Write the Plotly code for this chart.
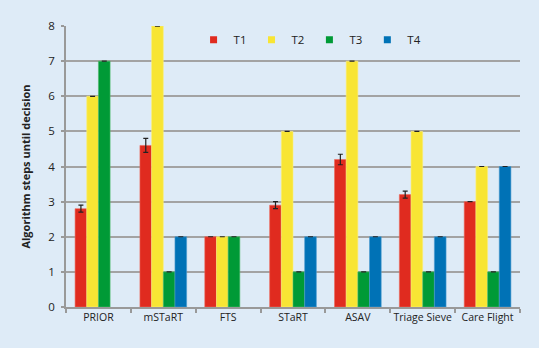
import plotly.graph_objects as go

categories = ["PRIOR", "mSTaRT", "FTS", "STaRT", "ASAV", "Triage Sieve", "Care Flight"]
series_names = ["T1", "T2", "T3", "T4"]
t1 = [2.8, 4.6, 2, 2.9, 4.2, 3.2, 3]
t1_err = [0.1, 0.2, 0, 0.1, 0.15, 0.1, 0]
t2 = [6, 8, 2, 5, 7, 5, 4]
t3 = [7, 1, 2, 1, 1, 1, 1]
t4 = [None, 2, None, 2, 2, 2, 4]
colors = ["#e02b1f", "#f8e534", "#009a36", "#0072b6"]
edge_colors = ["#ec6a5c", "#fbee7a", "#4dba6a", "#4a9ad0"]

values = [t1, t2, t3, t4]
errors = [t1_err, [0] * 7, [0] * 7, [0] * 7]

FONT = "Open Sans"
fig = go.Figure()
for name, vals, errs, c, ec in zip(series_names, values, errors, colors, edge_colors):
    fig.add_trace(go.Bar(
        x=categories, y=vals, name=name, showlegend=False,
        marker=dict(color=c, line=dict(color=ec, width=0.6)),
        error_y=dict(type="data", array=errs, visible=True, color="#222222",
                     thickness=1.2, width=2.5),
    ))
for name, c in zip(series_names, colors):
    fig.add_trace(go.Scatter(
        x=[None], y=[None], mode="markers", name=name,
        marker=dict(symbol="square", size=7, color=c),
    ))

fig.update_layout(
    width=539, height=348,
    paper_bgcolor="#deebf7", plot_bgcolor="#deebf7",
    margin=dict(l=66, r=19, t=26, b=41),
    barmode="group", bargap=0.28, bargroupgap=0,
    font=dict(family=FONT, size=11, color="#222222"),
    legend=dict(orientation="h", x=0.281, xanchor="left", y=1.003, yanchor="top",
                bgcolor="rgba(0,0,0,0)", itemwidth=30,
                font=dict(size=11.5, family=FONT, color="#222222"),
                tracegroupgap=0),
    xaxis=dict(showline=True, linecolor="#999999", linewidth=1.5, tickangle=0,
               ticks="outside", tickson="boundaries", ticklen=4, tickcolor="#999999",
               tickwidth=1.5, showgrid=False, tickfont=dict(size=10.5)),
    yaxis=dict(range=[0, 8.001], dtick=1, showline=True, linecolor="#999999", linewidth=1.5,
               gridcolor="#a3a3a3", gridwidth=1.5, ticks="outside", ticklen=3,
               tickcolor="#999999", tickwidth=1.5, zeroline=False,
               ticklabelstandoff=4, tickfont=dict(size=11.5),
               title=dict(text="<b>Algorithm steps until decision</b>", font=dict(size=11),
                          standoff=16)),
)
fig.write_html("out.html", config={"displayModeBar": False},
               post_script="document.body.style.margin='0';")
